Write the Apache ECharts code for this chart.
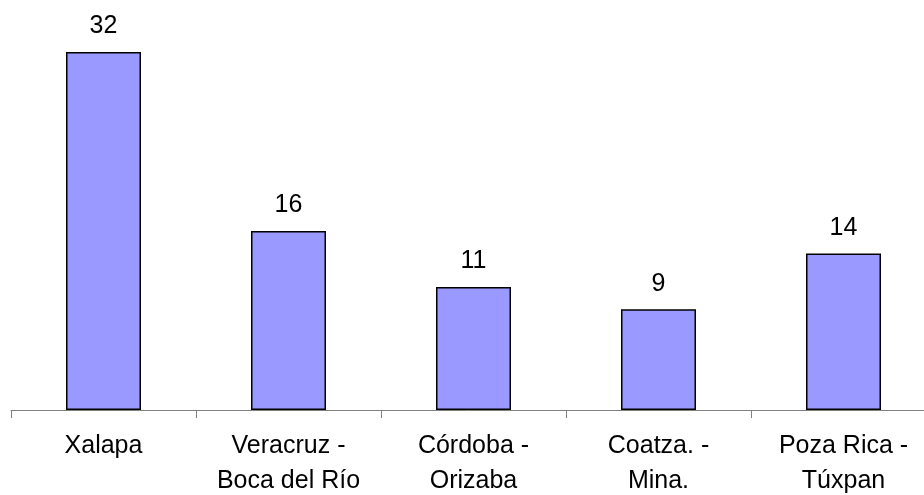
<!DOCTYPE html>
<html>
<head>
<meta charset="utf-8">
<script src="https://cdn.jsdelivr.net/npm/echarts@6/dist/echarts.min.js"></script>
<style>
html, body { margin: 0; padding: 0; background: #fff; }
#chart { width: 924px; height: 495px; }
</style>
</head>
<body>
<div id="chart"></div>
<script>
const categories = ['Xalapa', 'Veracruz -\nBoca del Río', 'Córdoba -\nOrizaba', 'Coatza. -\nMina.', 'Poza Rica -\nTúxpan']
const values = [32, 16, 11, 9, 14]

const chart = echarts.init(document.getElementById('chart'))
chart.setOption({
  animation: false,
  grid: { left: 11, top: 52, width: 925, bottom: 85, outerBoundsMode: 'none', containLabel: false },
  xAxis: {
    type: 'category',
    data: categories,
    axisLine: { lineStyle: { color: '#808080', width: 1 } },
    axisTick: { show: true, length: 8, lineStyle: { color: '#808080' } },
    axisLabel: {
      color: '#000',
      fontFamily: 'Liberation Sans',
      fontSize: 25,
      lineHeight: 35,
      margin: 19,
      interval: 0
    }
  },
  yAxis: {
    type: 'value',
    min: 0,
    max: 32,
    show: false,
    splitLine: { show: false }
  },
  series: [{
    type: 'bar',
    data: values,
    barWidth: 75,
    itemStyle: { color: '#9999FF', borderColor: '#000', borderWidth: 1.5 },
    label: {
      show: true,
      position: 'top',
      distance: 13,
      color: '#000',
      fontFamily: 'Liberation Sans',
      fontSize: 25
    }
  }]
})
</script>
</body>
</html>
